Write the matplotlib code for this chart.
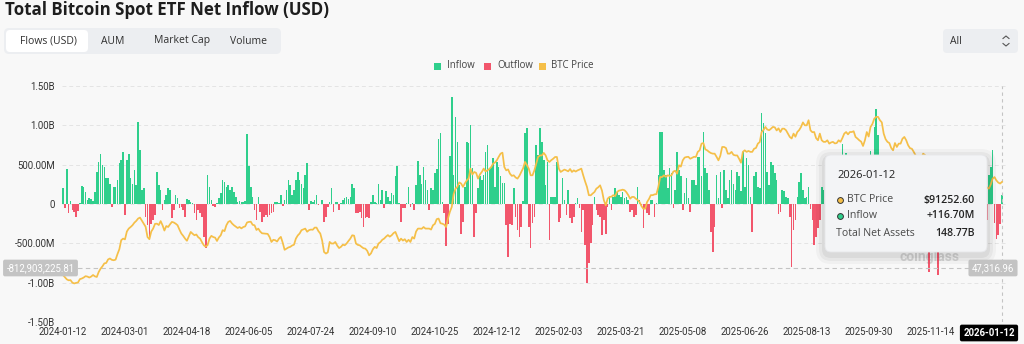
import matplotlib
matplotlib.use("Agg")
import matplotlib.pyplot as plt
from matplotlib.patches import FancyBboxPatch
from matplotlib.lines import Line2D
from matplotlib.transforms import IdentityTransform

# ---------------- data ----------------
title = "Total Bitcoin Spot ETF Net Inflow (USD)"
tabs = ["Flows (USD)", "AUM", "Market Cap", "Volume"]
legend_labels = ["Inflow", "Outflow", "BTC Price"]
x_tick_labels = ["2024-01-12", "2024-03-01", "2024-04-18", "2024-06-05", "2024-07-24",
                 "2024-09-10", "2024-10-25", "2024-12-12", "2025-02-03", "2025-03-21",
                 "2025-05-08", "2025-06-26", "2025-08-13", "2025-09-30", "2025-11-14"]
x_tick_every = 33          # trading days between labels
y_tick_values = [-1500, -1000, -500, 0, 500, 1000, 1500]   # millions USD
y_tick_labels = ["-1.50B", "-1.00B", "-500.00M", "0", "500.00M", "1.00B", "1.50B"]

# daily net flows, millions USD (one value per trading day, 2024-01-12 .. 2026-01-12)
flows_musd = [
    200, -55, 450, -120, 40, -80, -100, -160, -90, 10,
    230, 220, 150, 50, 80, 60, 40, 150, 410, 540,
    640, 500, 470, 330, 330, 250, -35, 220, 220, 300,
    520, 560, 660, -140, 560, 640, 330, 250, 430, 240,
    1040, 690, 180, 200, -160, -270, -420, -250, -200, -140,
    410, 240, 180, -75, 50, 115, 200, 180, -180, -75,
    115, 70, -55, -35, -75, -160, 60, 50, 30, 10,
    -120, -200, -75, -120, -160, -420, -560, 370, 220, 50,
    -25, -40, 10, 70, 135, 300, 280, 220, 240, 180,
    220, 155, 90, 20, 40, 30, 20, 40, 886, 480,
    220, 90, -75, -200, 90, -100, -225, -160, -140, -160,
    -140, -120, -100, 20, 30, 10, 115, -20, 50, 180,
    300, 240, 120, 180, 300, 410, 300, 250, 200, 370,
    525, -75, 40, 30, 50, 115, -15, 5, 50, -225,
    -160, -40, 20, 200, -100, 30, 30, -75, 10, 50,
    70, 90, 60, 90, 250, 200, -120, -120, -100, -180,
    -290, -180, -160, -180, 20, 115, 30, 10, 250, 50,
    180, -55, 160, 90, 40, 135, 115, 360, 485, 10,
    -225, -55, -55, 10, 220, -35, 10, -75, 240, 550,
    370, 250, 465, 300, 180, -75, 200, 180, 390, 450,
    820, 900, 20, -120, -530, -250, 610, 1360, 370, 1110,
    790, 240, -375, -225, 220, 790, 770, 1000, 455, -415,
    -120, 200, 350, 300, 370, 665, 750, 455, 475, 580,
    220, 540, 475, 350, 265, 265, -270, -670, -250, -270,
    200, -160, -330, -415, -290, 40, 900, 960, -290, -565,
    -245, -160, 750, 620, 960, 790, 560, 240, 540, -460,
    90, 95, 85, 540, -225, -180, 330, 50, -140, 180,
    -180, -245, -160, 10, 70, -55, -350, -75, -520, -1010,
    -755, -500, -270, 90, -75, -140, -160, -400, -200, -375,
    -35, 90, -75, 85, 200, 150, 115, 90, 150, 70,
    85, 50, -100, -75, -160, -140, 220, 50, -35, -310,
    -55, -120, -140, 50, 50, -160, 10, 370, 910, 910,
    430, 370, 200, 455, 390, -55, 180, 665, 430, 350,
    -75, 135, 330, 70, -100, 305, 305, 240, 600, 600,
    350, 920, 455, 390, 180, -350, -615, -290, 370, 70,
    410, -55, 430, 180, 70, 305, 430, 260, 180, 410,
    350, 160, 665, 220, 580, 500, 90, -350, 350, 410,
    220, 200, 1160, 1025, 900, 410, 240, 540, 500, 390,
    300, -125, -100, 180, 160, 95, 70, -160, -800, -330,
    -200, 90, 280, 400, 180, 70, 90, 220, -60, -200,
    -523, -415, -300, -200, 220, 180, 81, 179, -127, 333,
    301, -300, -160, 368, 23, 757, 553, 642, 260, 292,
    51, 163, 97, -363, -103, 241, -258, -418, 522, 430,
    676, 627, 985, 1210, 875, 441, 198, -5, 102, 103,
    -94, -536, -367, 477, -40, -101, 20, 90, 149, 202,
    -471, -488, -191, -187, -578, -137, 240, -558, 1, 524,
    -278, -867, -492, -254, -373, 75, -903, 238, -151, 129,
    21, 71, -3, 58, -14, -195, 55, 151, 223, 150,
    -80, 50, -350, -277, -161, 457, -158, -142, -189, -175,
    -276, -19, -200, 370, 470, 690, -240, -450, -400, -250,
    116.7,
]

# BTC price, thousands USD (same days)
btc_price_k = [
    43.9, 42.8, 41.7, 41.2, 41.3, 40.0, 39.6, 39.9, 40.1, 41.8,
    42.1, 42.6, 43.3, 43.1, 42.6, 43.1, 43.9, 43.2, 42.9, 45.4,
    47.1, 48.3, 49.8, 50.0, 51.8, 52.3, 51.6, 51.4, 51.7, 54.5,
    57.0, 61.6, 62.4, 62.0, 66.0, 67.5, 68.3, 69.2, 70.5, 71.4,
    72.6, 73.1, 71.5, 70.0, 68.4, 63.2, 62.1, 66.0, 67.5, 69.9,
    70.0, 69.3, 71.3, 69.2, 66.5, 68.8, 68.3, 69.7, 70.9, 70.6,
    70.0, 69.2, 67.0, 65.0, 63.8, 62.4, 61.3, 63.5, 65.8, 64.9,
    64.1, 64.5, 63.1, 62.4, 60.6, 59.0, 58.3, 59.1, 62.4, 63.8,
    63.2, 62.9, 61.2, 63.0, 64.1, 66.7, 66.2, 69.2, 70.9, 71.4,
    70.1, 69.2, 68.5, 67.8, 68.3, 67.6, 68.3, 68.6, 70.6, 70.9,
    71.0, 69.4, 69.2, 66.8, 67.5, 66.0, 65.1, 65.0, 64.9, 64.8,
    63.2, 60.7, 61.8, 61.6, 60.9, 62.4, 63.3, 60.3, 56.7, 57.3,
    57.9, 58.2, 58.9, 59.3, 62.4, 64.0, 65.0, 66.7, 67.1, 67.5,
    65.9, 66.7, 67.0, 66.9, 68.0, 68.0, 66.2, 65.0, 61.4, 55.6,
    54.8, 55.4, 60.7, 59.9, 59.9, 60.7, 58.9, 57.6, 58.2, 59.3,
    59.0, 59.9, 61.2, 62.4, 64.1, 63.9, 59.9, 59.2, 59.0, 58.2,
    57.5, 57.3, 56.2, 53.9, 54.9, 57.0, 58.2, 57.6, 59.9, 60.6,
    61.8, 62.4, 63.4, 64.2, 63.4, 64.1, 65.2, 65.8, 63.4, 61.1,
    62.4, 61.4, 62.1, 60.7, 61.8, 60.7, 63.2, 62.4, 66.0, 67.5,
    67.5, 67.4, 68.3, 67.5, 67.5, 67.5, 67.0, 69.2, 69.9, 72.3,
    72.6, 70.2, 70.0, 69.5, 68.3, 72.6, 76.0, 78.5, 85.0, 87.8,
    88.7, 91.0, 90.4, 88.7, 90.5, 92.0, 93.0, 98.0, 95.0, 96.3,
    95.8, 92.9, 95.0, 96.3, 98.0, 96.6, 97.1, 97.8, 98.8, 100.5,
    101.1, 102.2, 104.0, 105.6, 106.1, 98.8, 97.1, 97.6, 95.4, 94.3,
    94.6, 93.5, 92.9, 94.3, 96.3, 98.2, 101.4, 99.8, 98.0, 94.6,
    94.6, 97.1, 100.5, 104.0, 104.7, 104.7, 106.0, 104.7, 102.2, 101.4,
    102.3, 103.0, 103.9, 103.9, 98.0, 96.3, 96.9, 97.5, 97.1, 96.6,
    97.8, 96.3, 97.1, 96.5, 97.1, 97.5, 98.0, 94.6, 91.5, 88.7,
    84.5, 84.4, 85.3, 86.1, 87.8, 88.5, 89.5, 86.8, 81.9, 79.3,
    82.7, 83.6, 83.7, 84.5, 84.0, 86.1, 86.8, 87.0, 87.3, 87.0,
    86.0, 84.5, 82.7, 83.6, 83.6, 82.7, 82.0, 81.0, 79.0, 77.6,
    77.6, 81.0, 82.5, 84.5, 84.5, 84.9, 85.0, 88.7, 93.7, 93.7,
    94.6, 93.8, 94.6, 94.3, 94.6, 96.5, 96.9, 95.4, 99.7, 99.0,
    102.2, 103.6, 103.9, 104.0, 103.0, 103.5, 104.0, 103.9, 106.5, 107.3,
    110.7, 111.0, 107.8, 107.3, 106.5, 105.9, 105.6, 105.6, 104.0, 102.2,
    104.5, 109.0, 109.0, 108.5, 105.6, 105.6, 106.5, 105.0, 104.7, 104.7,
    103.0, 101.0, 106.5, 107.3, 106.5, 107.0, 106.5, 106.5, 108.1, 108.5,
    110.7, 111.5, 116.6, 117.6, 119.2, 117.9, 117.5, 118.3, 119.2, 119.0,
    117.4, 118.5, 116.6, 118.3, 118.3, 117.5, 115.8, 114.1, 113.3, 115.8,
    114.2, 116.6, 117.6, 119.2, 121.5, 120.0, 120.0, 122.6, 117.5, 116.5,
    116.6, 113.5, 112.4, 115.8, 112.4, 111.6, 111.6, 112.4, 110.7, 111.3,
    111.6, 110.8, 111.0, 112.4, 111.6, 113.5, 115.8, 116.6, 115.4, 116.6,
    116.6, 117.0, 114.1, 113.3, 112.4, 111.7, 109.5, 112.4, 116.6, 114.3,
    119.2, 120.7, 123.4, 124.3, 124.3, 122.6, 121.5, 115.8, 113.0, 111.6,
    111.0, 108.5, 107.3, 111.0, 109.0, 110.7, 110.7, 113.2, 114.1, 112.4,
    109.9, 108.4, 108.1, 106.5, 104.7, 103.8, 101.5, 103.0, 105.6, 104.9,
    103.0, 99.5, 96.8, 94.2, 92.5, 91.9, 87.0, 84.5, 86.8, 88.3,
    90.5, 91.4, 86.3, 91.3, 93.5, 92.1, 89.4, 90.3, 92.7, 92.0,
    92.5, 90.3, 86.4, 87.9, 86.2, 85.5, 88.1, 88.5, 87.6, 87.5,
    87.5, 87.2, 88.5, 87.8, 89.9, 92.9, 93.7, 92.0, 90.9, 90.4,
    91.2526,
]

hover_date = "2026-01-12"
hover_price = "$91252.60"
hover_flow = "+116.70M"
hover_assets = "148.77B"
cursor_flow_musd = -812.90322581
cursor_flow_label = "-812,903,225.81"
cursor_price_label = "47,316.96"

# ---------------- style ----------------
W, H = 1024, 344
BG = "#f8f8f8"
GREEN = "#2fcf8c"
RED = "#f2566c"
GOLD = "#f5bf48"

plt.rcParams["font.family"] = ["Roboto", "DejaVu Sans"]
UI_FONT = ["Open Sans", "Noto Sans", "DejaVu Sans"]

fig = plt.figure(figsize=(W / 100, H / 100), dpi=100, facecolor=BG)


def fx(x):
    return x / W


def fy(y):
    return 1 - y / H


def rbox(x0, y0, x1, y1, fc, r=4, z=1, ec="none", alpha=1.0, lw=0):
    p = FancyBboxPatch((x0, H - y1), x1 - x0, y1 - y0,
                       boxstyle=f"round,pad=0,rounding_size={r}",
                       transform=IdentityTransform(), fc=fc, ec=ec, lw=lw,
                       alpha=alpha, zorder=z)
    fig.add_artist(p)
    return p


# title
fig.text(fx(5), fy(10), title, fontsize=12.2, fontweight="bold", color="#1e1e1e",
         ha="left", va="center", family=UI_FONT)

# tabs
rbox(4, 28, 281, 54, "#eceef1", r=5)
rbox(6, 30, 88, 52, "#ffffff", r=4, z=2)
tab_x = [48, 113, 182, 249]
for t, xc in zip(tabs, tab_x):
    fig.text(fx(xc), fy(41), t, fontsize=7.5, color="#303030", ha="center", va="center",
             zorder=3, family=UI_FONT)

# "All" dropdown
rbox(943, 29, 1018, 53, "#eceef1", r=4)
fig.text(fx(950), fy(41), "All", fontsize=7.5, color="#303030", ha="left", va="center",
         zorder=3, family=UI_FONT)
for ys, d in ((38.5, -1), (43.5, 1)):
    fig.add_artist(Line2D([fx(1003), fx(1006), fx(1009)],
                          [fy(ys), fy(ys + 2.5 * d), fy(ys)],
                          color="#555555", lw=0.8, zorder=3))

# legend
leg_items = [(434, 447, GREEN), (484, 497, RED), (539, 551, GOLD)]
for (sx, tx, col), lab in zip(leg_items, legend_labels):
    fig.add_artist(FancyBboxPatch((sx, H - 70), 7, 7, boxstyle="square,pad=0",
                                  transform=IdentityTransform(), fc=col, ec="none"))
    fig.text(fx(tx), fy(66), lab, fontsize=6.9, color="#444444", ha="left", va="center",
             family=UI_FONT)

# ---------------- main axes ----------------
ax = fig.add_axes([fx(62), 1 - 322 / H, (1007 - 62) / W, (322 - 86) / H])
ax.set_facecolor(BG)
n = len(flows_musd)
xs = list(range(n))
cols = [GREEN if v >= 0 else RED for v in flows_musd]
ax.bar(xs, flows_musd, width=0.85, color=cols, linewidth=0, zorder=2)
ax.set_xlim(-0.53, 502.66)
ax.set_ylim(-1500, 1500)
ax.set_yticks(y_tick_values)
ax.set_yticklabels(y_tick_labels)
ax.set_xticks([i * x_tick_every for i in range(len(x_tick_labels))])
ax.set_xticklabels(x_tick_labels)
ax.tick_params(axis="both", length=0, labelsize=6.9, labelcolor="#333333")
ax.tick_params(axis="y", pad=5)
ax.tick_params(axis="x", pad=3.5)
for s in ax.spines.values():
    s.set_visible(False)
ax.grid(axis="y", color="#e4e4e4", linestyle=(0, (4, 3)), linewidth=0.7, zorder=0)

# watermark
ax.text(fx(930), fy(257), "coinglass", transform=fig.transFigure, fontsize=10,
        fontweight="bold", color="#d6d6d6", ha="center", va="center", zorder=1)

# crosshair
ax.axhline(cursor_flow_musd, color="#c4c4c4", linestyle=(0, (4, 3)), linewidth=0.8, zorder=3)
ax.axvline(n - 1, color="#c4c4c4", linestyle=(0, (3, 3)), linewidth=0.8, zorder=3)

# price on hidden secondary scale
ax2 = ax.twinx()
ax2.plot(xs, [p * 1000 for p in btc_price_k], color=GOLD, linewidth=1.25, zorder=4)
ax2.set_ylim(20000, 140000)
ax2.set_xlim(-0.53, 502.66)
ax2.set_yticks([])
for s in ax2.spines.values():
    s.set_visible(False)

# axis pointer labels
fig.text(fx(40.5), fy(268), cursor_flow_label, fontsize=6.9, color="white", ha="center",
         va="center", zorder=12,
         bbox=dict(boxstyle="round,pad=0.35,rounding_size=0.2", fc="#c3c3c3", ec="none"))
fig.text(fx(993), fy(268), cursor_price_label, fontsize=6.9, color="white", ha="center",
         va="center", zorder=12,
         bbox=dict(boxstyle="round,pad=0.35,rounding_size=0.2", fc="#c3c3c3", ec="none"))
fig.text(fx(989), fy(333), hover_date, fontsize=6.9, color="white", ha="center",
         va="center", zorder=12, fontweight="bold",
         bbox=dict(boxstyle="round,pad=0.35,rounding_size=0.2", fc="#000000", ec="none"))

# ---------------- tooltip ----------------
for k, a in ((9, 0.03), (6, 0.04), (3, 0.05)):
    rbox(825 - k, 155 - k + 3, 987 + k, 252 + k + 3, "#000000", r=6 + k, z=9, alpha=a)
rbox(825, 155, 987, 252, "#f3f4f6", r=6, z=10, ec="#e6e7ea", lw=0.6)
fig.text(fx(837), fy(176), hover_date, fontsize=8, color="#222222", ha="left",
         va="center", zorder=11, family=UI_FONT)
rows = [(200, "BTC Price", hover_price, GOLD), (216, "Inflow", hover_flow, GREEN),
        (233, "Total Net Assets", hover_assets, None)]
for yy, lab, val, mc in rows:
    if mc is not None:
        fig.add_artist(Line2D([fx(840)], [fy(yy)], marker="o", markersize=4.2,
                              markerfacecolor=mc, markeredgecolor="#333333",
                              markeredgewidth=0.7, zorder=11))
        lx = 847
    else:
        lx = 836
    fig.text(fx(lx), fy(yy), lab, fontsize=7.6, color="#4a4a4a", ha="left",
             va="center", zorder=11, family=UI_FONT)
    fig.text(fx(975), fy(yy), val, fontsize=7.6, color="#222222", ha="right",
             va="center", zorder=11, fontweight="semibold", family=UI_FONT)

fig.savefig("out.png", dpi=100, facecolor=BG)
